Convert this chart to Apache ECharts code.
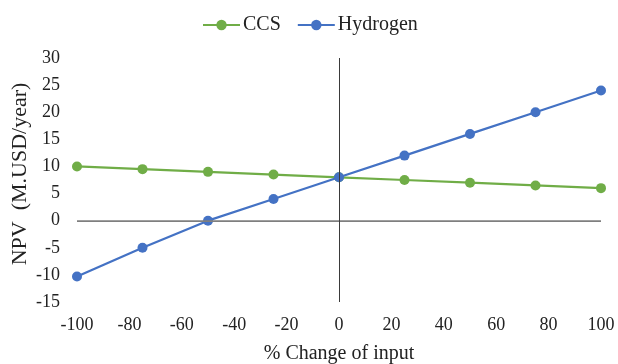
<!DOCTYPE html>
<html>
<head>
<meta charset="utf-8">
<script src="https://cdn.jsdelivr.net/npm/echarts@6/dist/echarts.min.js"></script>
<style>
  html, body { margin: 0; padding: 0; background: #fff; }
  #chart { width: 618px; height: 364px; }
</style>
</head>
<body>
<div id="chart"></div>
<script>
// Sensitivity of NPV to a change in input, two technologies
const changePct = [-100, -75, -50, -25, 0, 25, 50, 75, 100];
const ccsNpv = [10.0, 9.5, 9.0, 8.5, 8.0, 7.5, 7.0, 6.5, 6.0];
const hydrogenNpv = [-10.3, -5.0, 0.0, 4.0, 8.0, 12.0, 16.0, 20.0, 24.0];

const seriesNames = ['CCS', 'Hydrogen'];
const seriesColors = ['#70AD47', '#4472C4'];

const font = '"Liberation Serif", "Times New Roman", serif';
const ink = '#222';

const pairs = (xs, ys) => xs.map((x, i) => [x, ys[i]]);

const chart = echarts.init(document.getElementById('chart'));
chart.setOption({
  animation: false,
  textStyle: { fontFamily: font },
  legend: {
    top: 10,
    left: 197,
    itemWidth: 37,
    itemHeight: 13,
    itemGap: 16,
    textStyle: { fontFamily: font, fontSize: 20, color: ink, padding: [0, 0, 0, -2] },
    data: seriesNames
  },
  grid: { left: 77, right: 17, top: 58, bottom: 62, containLabel: false, outerBoundsMode: 'none' },
  xAxis: {
    type: 'value',
    min: -100, max: 100, interval: 20,
    name: '% Change of input',
    nameLocation: 'middle',
    nameGap: 42,
    nameMoveOverlap: false,
    nameTextStyle: { fontFamily: font, fontSize: 20, color: ink },
    axisLine: { show: false },
    axisTick: { show: false },
    splitLine: { show: false },
    axisLabel: { fontFamily: font, fontSize: 18, color: ink, margin: 14 }
  },
  yAxis: {
    type: 'value',
    min: -15, max: 30, interval: 5,
    name: 'NPV  (M.USD/year)',
    nameLocation: 'middle',
    nameGap: 46,
    nameMoveOverlap: false,
    nameTextStyle: { fontFamily: font, fontSize: 22, color: ink, padding: [0, 0, 0, 12] },
    axisLine: { show: false },
    axisTick: { show: false },
    splitLine: { show: false },
    axisLabel: { fontFamily: font, fontSize: 18, color: ink, margin: 17 }
  },
  series: [
    {
      name: seriesNames[0],
      type: 'line',
      data: pairs(changePct, ccsNpv),
      color: seriesColors[0],
      symbol: 'circle',
      symbolSize: 10,
      lineStyle: { width: 2.25 },
      z: 3,
      markLine: {
        silent: true,
        symbol: 'none',
        label: { show: false },
        data: [
          { yAxis: 0, lineStyle: { color: '#7f7f7f', width: 1.75, type: 'solid' } },
          { xAxis: 0, lineStyle: { color: '#3a3a3a', width: 1, type: 'solid' } }
        ]
      }
    },
    {
      name: seriesNames[1],
      type: 'line',
      data: pairs(changePct, hydrogenNpv),
      color: seriesColors[1],
      symbol: 'circle',
      symbolSize: 10,
      lineStyle: { width: 2.25 },
      z: 4
    }
  ]
});
</script>
</body>
</html>
